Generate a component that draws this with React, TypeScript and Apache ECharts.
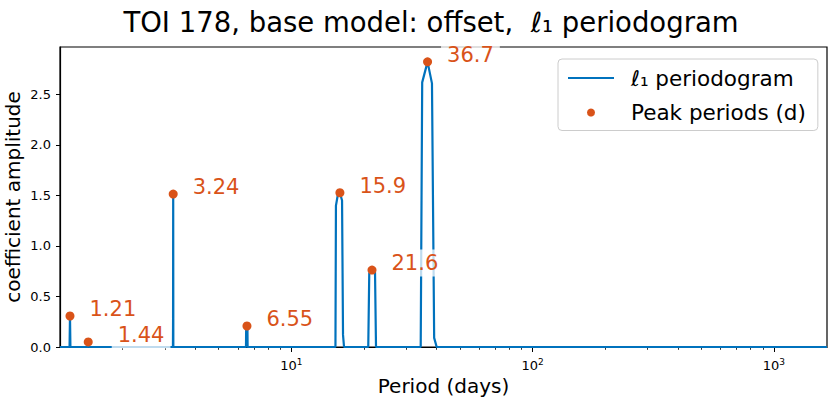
import React, { useEffect, useRef } from "react";
import * as echarts from "echarts";

// ---- data ----
const periodogramPeriods = [
  1.1, 1.205, 1.21, 1.215, 1.435, 1.44, 1.445, 3.232, 3.236, 3.24, 3.244,
  6.49, 6.5, 6.55, 6.58, 6.59, 15.24, 15.31, 15.57, 15.9, 16.23, 16.38, 16.54,
  20.84, 21.04, 21.6, 22.23, 22.44, 34.38, 34.87, 36.7, 38.28, 39.09, 40.04, 1660,
];
const periodogramValues = [
  0, 0, 0.307, 0, 0, 0.05, 0, 0, 0.28, 1.514, 0,
  0, 0.19, 0.208, 0.19, 0, 0, 1.4, 1.5, 1.527, 1.45, 0.12, 0,
  0, 0.73, 0.762, 0.74, 0, 0, 2.62, 2.823, 2.61, 0.09, 0, 0,
];
const peakPeriods = [1.21, 1.44, 3.24, 6.55, 15.9, 21.6, 36.7];
const peakAmplitudes = [0.307, 0.05, 1.514, 0.208, 1.527, 0.762, 2.823];
const peakLabels = ["1.21", "1.44", "3.24", "6.55", "15.9", "21.6", "36.7"];
const xMajorTicks = [10, 100, 1000];
const xMinorTicks = [
  2, 3, 4, 5, 6, 7, 8, 9, 20, 30, 40, 50, 60, 70, 80, 90, 200, 300, 400, 500,
  600, 700, 800, 900,
];
const yTicks = [0, 0.5, 1.0, 1.5, 2.0, 2.5];
const xRange = [1.1, 1660];
const yRange = [0, 2.97];

const TITLE = "TOI 178, base model: offset,  \u2113\u2081 periodogram";
const LINE_NAME = "\u2113\u2081 periodogram";
const PEAK_NAME = "Peak periods (d)";

const BLUE = "#0072BD";
const ORANGE = "#D95319";
const FONT = "DejaVu Sans";

const powLabel = (v: number) => "{b|10}{s|" + String(Math.round(Math.log10(v))) + "}";

// small extra shift for the crowded label
const labelShift: Record<string, number> = { "1.44": 10 };

export default function App() {
  const ref = useRef<HTMLDivElement>(null);
  useEffect(() => {
    if (!ref.current) return;
    const chart = echarts.init(ref.current, undefined, { renderer: "svg" });
    const lineData = periodogramPeriods.map((p, i) => [p, periodogramValues[i]]);
    const peakData = peakPeriods.map((p, i) => ({
      value: [p, peakAmplitudes[i]],
      name: peakLabels[i],
      label: { offset: [labelShift[peakLabels[i]] || 0, -7] },
    }));
    const xBase = {
      type: "log" as const,
      logBase: 10,
      min: xRange[0],
      max: xRange[1],
      position: "bottom" as const,
      splitLine: { show: false },
      minorTick: { show: false },
    };
    chart.setOption({
      animation: false,
      textStyle: { fontFamily: FONT },
      grid: {
        left: 60,
        right: 4,
        top: 47,
        bottom: 50,
        containLabel: false,
        outerBoundsMode: "none",
        show: true,
        borderColor: "#000",
        borderWidth: 1.2,
        backgroundColor: "transparent",
      },
      graphic: [
        {
          type: "text",
          x: 431,
          y: 22,
          style: {
            text: TITLE,
            fontFamily: FONT,
            fontSize: 27.5,
            fill: "#000",
            textAlign: "center",
            textVerticalAlign: "middle",
          },
        },
      ],
      legend: {
        orient: "vertical",
        left: 558,
        top: 59,
        padding: [8, 12, 7, 9],
        itemWidth: 46,
        itemHeight: 8,
        itemGap: 12.5,
        selectedMode: false,
        borderColor: "#cccccc",
        borderWidth: 1,
        borderRadius: 4,
        backgroundColor: "rgba(255,255,255,0.8)",
        textStyle: { fontFamily: FONT, fontSize: 21.5, color: "#000", padding: [0, 0, 0, 12] },
        data: [
          { name: LINE_NAME, itemStyle: { opacity: 0, color: "transparent", borderWidth: 0 } },
          { name: PEAK_NAME },
        ],
      },
      xAxis: [
        {
          ...xBase,
          name: "Period (days)",
          nameLocation: "middle",
          nameGap: 29,
          nameMoveOverlap: false,
          nameTextStyle: { fontFamily: FONT, fontSize: 20, color: "#000" },
          axisLine: { show: true, lineStyle: { color: "#000", width: 1.2 } },
          axisTick: { show: true, length: 5, customValues: xMajorTicks, lineStyle: { color: "#000", width: 1 } },
          axisLabel: {
            show: true,
            customValues: xMajorTicks,
            formatter: (v: number) => powLabel(v),
            color: "#000",
            margin: 10,
            rich: {
              b: { fontFamily: FONT, fontSize: 13, color: "#000" },
              s: { fontFamily: FONT, fontSize: 9, color: "#000", padding: [0, 0, 7, 0] },
            },
          },
        },
        {
          ...xBase,
          axisLine: { show: false },
          axisTick: { show: true, length: 2.8, customValues: xMinorTicks, lineStyle: { color: "#000", width: 0.8 } },
          axisLabel: { show: false },
        },
      ],
      yAxis: {
        type: "value",
        min: yRange[0],
        max: yRange[1],
        name: "coefficient amplitude",
        nameLocation: "middle",
        nameGap: 37,
        nameMoveOverlap: false,
        nameTextStyle: { fontFamily: FONT, fontSize: 20, color: "#000" },
        splitLine: { show: false },
        axisLine: { show: true, lineStyle: { color: "#000", width: 1.2 } },
        axisTick: { show: true, length: 4, customValues: yTicks, lineStyle: { color: "#000", width: 1 } },
        axisLabel: {
          customValues: yTicks,
          formatter: (v: number) => v.toFixed(1),
          fontFamily: FONT,
          fontSize: 13,
          color: "#000",
          margin: 9,
        },
      },
      series: [
        {
          type: "line",
          name: LINE_NAME,
          xAxisIndex: 0,
          data: lineData,
          showSymbol: false,
          symbol: "none",
          lineStyle: { color: BLUE, width: 2.2 },
          itemStyle: { color: BLUE },
          z: 2,
        },
        {
          type: "scatter",
          name: PEAK_NAME,
          xAxisIndex: 0,
          data: peakData,
          symbol: "circle",
          symbolSize: 9,
          itemStyle: { color: ORANGE, opacity: 1 },
          z: 3,
          label: {
            show: true,
            position: "right",
            distance: 9,
            formatter: (p: any) => p.name,
            fontFamily: FONT,
            fontSize: 21,
            color: ORANGE,
            opacity: 1,
            backgroundColor: "rgba(255,255,255,0.75)",
            padding: [3, 6],
          },
        },
      ],
    });
    return () => chart.dispose();
  }, []);
  return (
    <div
      ref={ref}
      style={{ position: "absolute", left: 0, top: 0, width: 831, height: 397 }}
    />
  );
}
